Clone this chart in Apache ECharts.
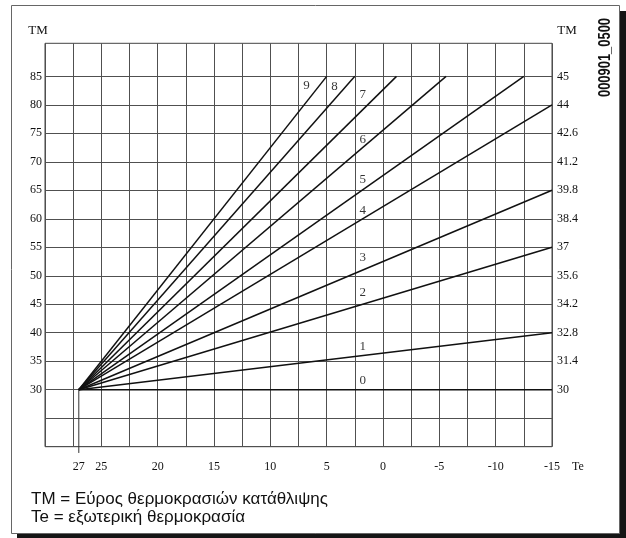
<!DOCTYPE html>
<html>
<head>
<meta charset="utf-8">
<script src="https://cdn.jsdelivr.net/npm/echarts@6/dist/echarts.min.js"></script>
<style>
  html, body { margin: 0; padding: 0; background: #fff; }
  #main { width: 626px; height: 538px; }
</style>
</head>
<body>
<div id="main"></div>
<script>
  // outside temperature labels (Te) and supply temperature ticks (TM)
  const teTicks = [27, 25, 20, 15, 10, 5, 0, -5, -10, -15];
  const tmGrid = [20, 25, 30, 35, 40, 45, 50, 55, 60, 65, 70, 75, 80, 85];
  const tmTicks = [30, 35, 40, 45, 50, 55, 60, 65, 70, 75, 80, 85];
  const tmRight = ['30', '31.4', '32.8', '34.2', '35.6', '37', '38.4', '39.8', '41.2', '42.6', '44', '45'];

  // heating curves 0..9, all start at Te 27 / TM 30
  const curveNames = ['0', '1', '2', '3', '4', '5', '6', '7', '8', '9'];
  const startTe = 27;
  const startTM = 30;
  const curveEndTe = [-15, -15, -15, -15, -15, -12.5, -5.6, -1.2, 2.5, 5];
  const curveEndTM = [30, 40, 55, 65, 80, 85, 85, 85, 85, 85];

  // where the curve numbers sit
  const labelTe = [1.8, 1.8, 1.8, 1.8, 1.8, 1.8, 1.8, 1.8, 4.3, 6.8];
  const labelTM = [31.6, 37.6, 47.0, 53.2, 61.5, 66.8, 73.9, 81.8, 83.2, 83.3];

  var myChart = echarts.init(document.getElementById('main'));

  let serif = 'Liberation Serif';
  let sans = 'Liberation Sans';

  let series = curveNames.map(function (name, i) {
    return {
      name: name,
      type: 'line',
      symbol: 'none',
      silent: true,
      lineStyle: { color: '#111', width: 1.5 },
      data: [[startTe, startTM], [curveEndTe[i], curveEndTM[i]]]
    };
  });
  // drop line from the common start point down past the axis
  series.push({
    type: 'line',
    symbol: 'none',
    clip: false,
    lineStyle: { color: '#333', width: 1 },
    data: [[startTe, startTM], [startTe, 18.9]]
  });
  series.push({
    type: 'scatter',
    symbolSize: 0,
    silent: true,
    label: {
      show: true,
      position: 'inside',
      formatter: function (p) { return p.data[2]; },
      fontFamily: serif,
      fontSize: 13,
      color: '#000',
      textBorderWidth: 0
    },
    data: labelTe.map(function (t, i) { return [t, labelTM[i], curveNames[i]]; })
  });

  let yLabel = {
    customValues: tmTicks,
    fontFamily: serif,
    fontSize: 12,
    color: '#111',
    verticalAlign: 'middle',
    padding: [0, 0, 8, 0]
  };

  option = {
    backgroundColor: '#fff',
    animation: false,
    grid: {
      left: 45, right: 74, top: 43.3, bottom: 91.3,
      show: true, borderColor: '#444', borderWidth: 1
    },
    xAxis: {
      type: 'value',
      inverse: true,
      min: -15,
      max: 30,
      interval: 2.5,
      axisLine: { show: false },
      axisTick: { show: false },
      splitLine: { show: true, lineStyle: { color: '#505050', width: 1 } },
      axisLabel: {
        customValues: teTicks,
        margin: 14,
        fontFamily: serif,
        fontSize: 12,
        color: '#111'
      }
    },
    yAxis: [
      {
        type: 'value',
        min: 20,
        max: 90.8,
        axisLine: { show: false },
        axisTick: { show: false, customValues: tmGrid },
        splitLine: { show: true, lineStyle: { color: '#505050', width: 1 } },
        axisLabel: Object.assign({ margin: 3 }, yLabel)
      },
      {
        type: 'value',
        position: 'right',
        min: 20,
        max: 90.8,
        axisLine: { show: false },
        axisTick: { show: false, customValues: tmGrid },
        splitLine: { show: false },
        axisLabel: Object.assign({
          margin: 5,
          formatter: function (v) { return tmRight[tmTicks.indexOf(v)]; }
        }, yLabel)
      }
    ],
    graphic: [
      { type: 'rect', z: -100, shape: { x: 17, y: 11, width: 609, height: 527 }, style: { fill: '#151515' } },
      { type: 'rect', z: -99, shape: { x: 11.5, y: 5.5, width: 608, height: 528 }, style: { fill: '#fff', stroke: '#666', lineWidth: 1 } },
      { type: 'text', z: 100, x: 38, y: 31, style: { text: 'TM', font: '13px ' + serif, fill: '#111', textAlign: 'center', textVerticalAlign: 'middle' } },
      { type: 'text', z: 100, x: 567, y: 31, style: { text: 'TM', font: '13px ' + serif, fill: '#111', textAlign: 'center', textVerticalAlign: 'middle' } },
      { type: 'text', z: 100, x: 578, y: 467, style: { text: 'Te', font: '12px ' + serif, fill: '#111', textAlign: 'center', textVerticalAlign: 'middle' } },
      {
        type: 'text', z: 100, x: 605, y: 57.5, rotation: Math.PI / 2, scaleX: 0.76,
        style: { text: '000901_0500', font: 'bold 17px ' + sans, fill: '#111', textAlign: 'center', textVerticalAlign: 'middle' }
      },
      { type: 'text', z: 100, left: 31, top: 491, style: { text: 'TM = Εύρος θερμοκρασιών κατάθλιψης', font: '17px ' + sans, fill: '#111' } },
      { type: 'text', z: 100, left: 31, top: 509, style: { text: 'Te = εξωτερική θερμοκρασία', font: '17px ' + sans, fill: '#111' } }
    ],
    series: series
  };

  myChart.setOption(option);
</script>
</body>
</html>
